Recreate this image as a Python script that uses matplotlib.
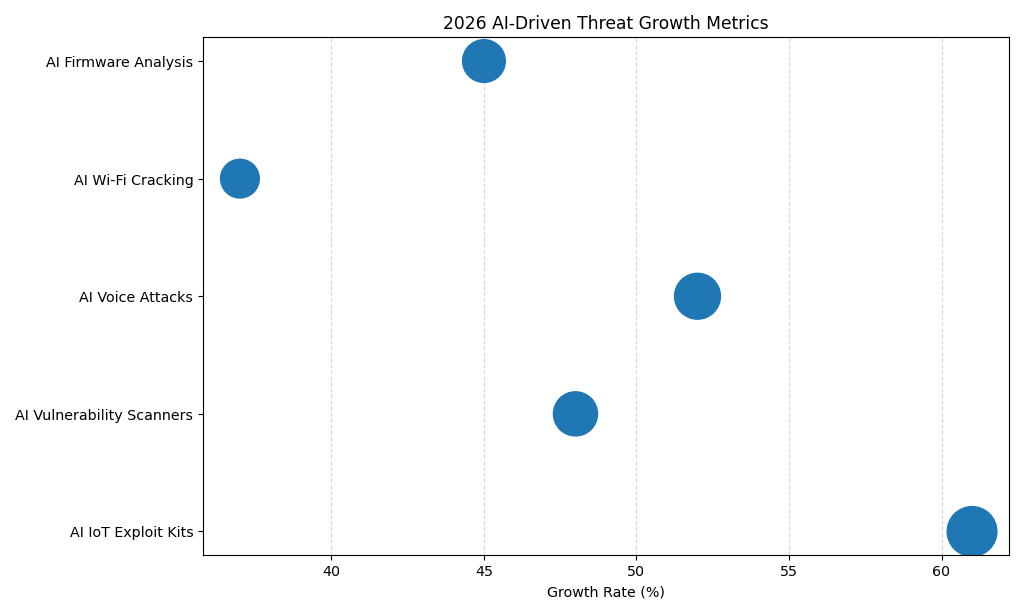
import matplotlib
matplotlib.use('Agg')
from matplotlib import pyplot as plt

categories = ['AI IoT Exploit Kits', 'AI Vulnerability Scanners', 'AI Voice Attacks',
              'AI Wi-Fi Cracking', 'AI Firmware Analysis']
growth_rates = [61, 48, 52, 37, 45]

fig, ax = plt.subplots(figsize=(10, 6), dpi=102.4)
ax.scatter(growth_rates, categories, s=[v * 20 for v in growth_rates], color='#1f77b4')
ax.set_title('2026 AI-Driven Threat Growth Metrics', fontsize=12)
ax.set_xlabel('Growth Rate (%)')
ax.grid(axis='x', linestyle='--', alpha=0.5)
ax.set_axisbelow(True)
plt.tight_layout()
plt.savefig('out.png')
